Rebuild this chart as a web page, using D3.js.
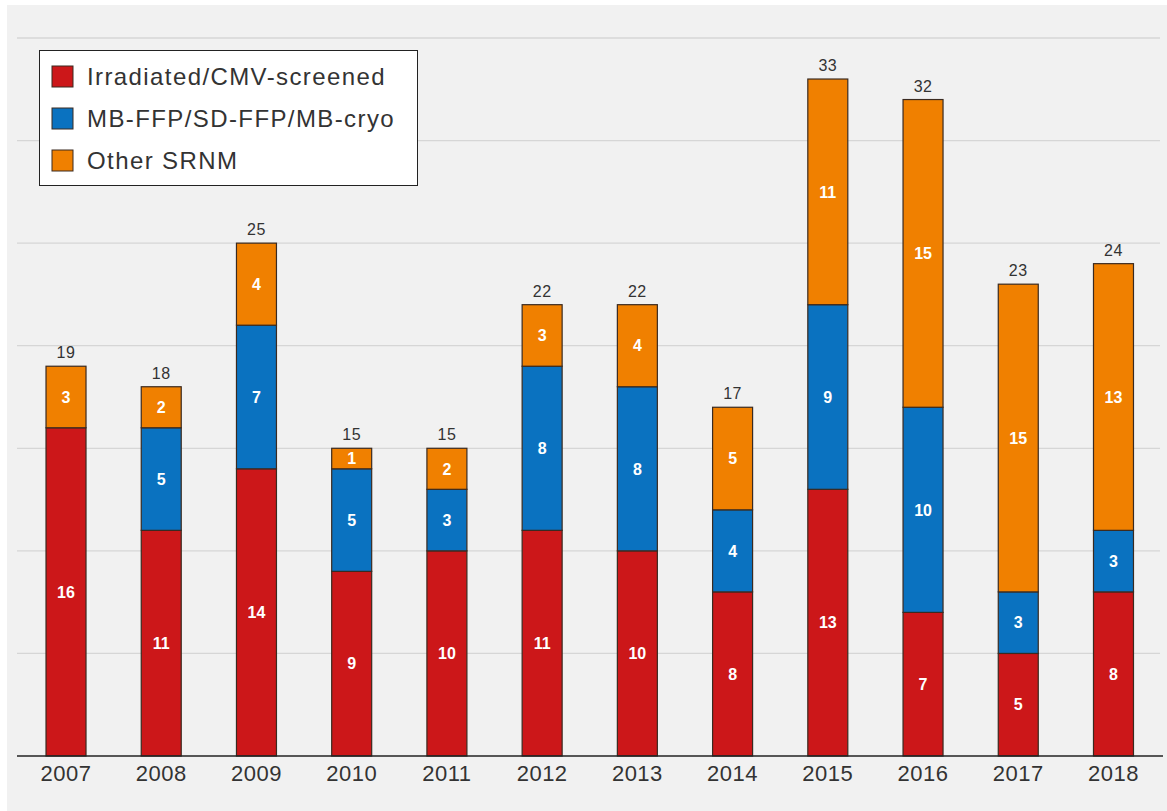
<!DOCTYPE html>
<html><head><meta charset="utf-8">
<script src="https://cdn.jsdelivr.net/npm/d3@7"></script>
<style>html,body{margin:0;padding:0;background:#fff;}svg{display:block;font-family:"Liberation Sans",Arial,sans-serif;}</style>
</head><body>
<svg id="chart" width="1167" height="811"></svg>
<script>
const years = ["2007","2008","2009","2010","2011","2012","2013","2014","2015","2016","2017","2018"];
const irradiated = [16,11,14,9,10,11,10,8,13,7,5,8];
const mbffp = [0,5,7,5,3,8,8,4,9,10,3,3];
const otherSRNM = [3,2,4,1,2,3,4,5,11,15,15,13];
const seriesNames = ["Irradiated/CMV-screened","MB-FFP/SD-FFP/MB-cryo","Other SRNM"];
const seriesColors = ["#cc1719","#0a72c0","#f08000"];
const yTicks = [0,5,10,15,20,25,30,35];

const svg = d3.select("#chart");
svg.append("rect").attr("x",7).attr("y",5).attr("width",1160).attr("height",806).attr("fill","#f1f1f1");

const x = d3.scaleBand().domain(years).range([18.4,1161.1]).paddingInner(0.58).paddingOuter(0.29);
const y = d3.scaleLinear().domain([0,35]).range([756,38]);

// gridlines
svg.append("g").selectAll("line").data(yTicks.filter(d=>d>0)).join("line")
  .attr("x1",17).attr("x2",1160).attr("y1",d=>y(d)).attr("y2",d=>y(d))
  .attr("stroke","#d6d6d6").attr("stroke-width",1.3);

const rows = years.map((yr,i)=>({year:yr, s0:irradiated[i], s1:mbffp[i], s2:otherSRNM[i]}));
const stack = d3.stack().keys(["s0","s1","s2"])(rows);

const g = svg.append("g");
stack.forEach((layer,k)=>{
  layer.forEach(d=>{
    if (d[1]-d[0] <= 0) return;
    g.append("rect").attr("x",x(d.data.year)).attr("width",x.bandwidth())
      .attr("y",y(d[1])).attr("height",y(d[0])-y(d[1]))
      .attr("fill",seriesColors[k]).attr("stroke","#3a2a20").attr("stroke-width",1.2);
  });
});
stack.forEach((layer,k)=>{
  layer.forEach(d=>{
    const v = d[1]-d[0];
    if (v <= 0) return;
    g.append("text").attr("x",x(d.data.year)+x.bandwidth()/2).attr("y",(y(d[0])+y(d[1]))/2)
      .attr("dy","0.36em").attr("text-anchor","middle").attr("fill","#fff")
      .attr("font-size",16).attr("font-weight","bold").text(v);
  });
});
// totals
rows.forEach(r=>{
  const t = r.s0+r.s1+r.s2;
  g.append("text").attr("x",x(r.year)+x.bandwidth()/2).attr("y",y(t)-8)
    .attr("text-anchor","middle").attr("fill","#333").attr("font-size",16).attr("letter-spacing",0.5).text(t);
});

// x axis
const xAxis = svg.append("g").attr("transform","translate(0,756)")
  .call(d3.axisBottom(x).tickSize(0).tickPadding(9));
xAxis.select(".domain").remove();
xAxis.selectAll("text").attr("font-size",22).attr("fill","#333").attr("letter-spacing",0.5)
  .attr("font-family","Liberation Sans, Arial, sans-serif");
svg.append("line").attr("x1",17).attr("x2",1163).attr("y1",756).attr("y2",756).attr("stroke","#222").attr("stroke-width",1.5);

// legend
const lg = svg.append("g");
lg.append("rect").attr("x",39.5).attr("y",50.5).attr("width",378).attr("height",135).attr("fill","#fff").attr("stroke","#222").attr("stroke-width",1);
seriesNames.forEach((n,i)=>{
  const yy = 76 + i*42;
  lg.append("rect").attr("x",52).attr("y",yy-10).attr("width",21).attr("height",21)
    .attr("fill",seriesColors[i]).attr("stroke","#3a2a20").attr("stroke-width",1);
  lg.append("text").attr("x",87).attr("y",yy).attr("dy","0.36em").attr("font-size",24)
    .attr("letter-spacing",1.4).attr("fill","#333").text(n);
});
</script>
</body></html>
